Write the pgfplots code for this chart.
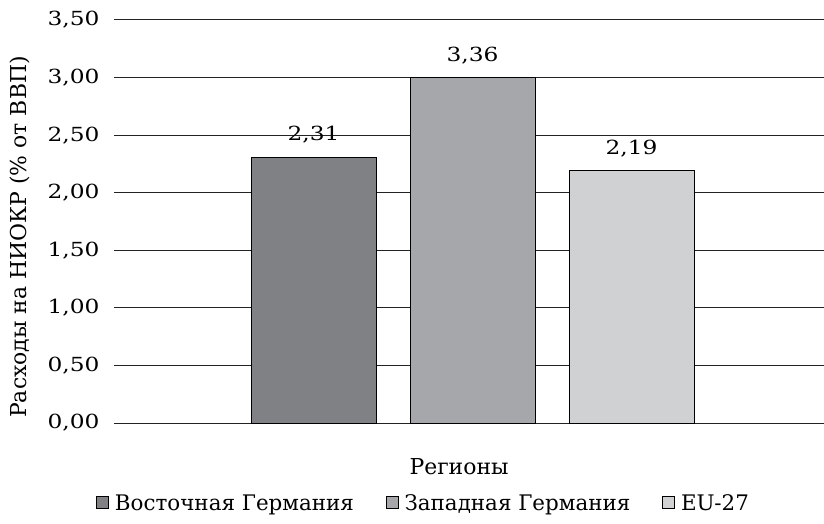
\documentclass[border=0pt]{standalone}
\usepackage{pgfplots}
\pgfplotsset{compat=1.18}
\usepackage{fontspec}
\setmainfont{DejaVu Serif}
\newfontfamily\numfont[FakeStretch=1.2]{DejaVu Serif}

\definecolor{barA}{RGB}{128,129,133}
\definecolor{barB}{RGB}{166,167,170}
\definecolor{barC}{RGB}{208,209,211}
\definecolor{gridc}{RGB}{35,35,35}

\begin{document}
\begin{tikzpicture}
  \begin{axis}[
    name=ax,
    at={(0,0)}, anchor=south west,
    scale only axis,
    width=710bp, height=403bp,
    xmin=-0.255, xmax=4.211,
    ymin=0, ymax=3.5,
    ytick={0,0.5,1,1.5,2,2.5,3,3.5},
    xtick=\empty,
    axis line style={draw=none},
    major tick length=0pt,
    ymajorgrids,
    grid style={gridc, line width=1pt},
    yticklabel style={
      /pgf/number format/.cd, fixed, fixed zerofill, precision=2, use comma,
      assume math mode=true,
      /tikz/.cd, font=\numfont\fontsize{19.5}{22}\selectfont, xshift=-11bp},
    ylabel={Расходы на НИОКР (\% от ВВП)},
    ylabel style={at={(rel axis cs:-0.132,0.4615)}, anchor=center,
      font=\fontsize{22}{24}\selectfont},
    xlabel={Регионы},
    xlabel style={at={(rel axis cs:0.486,-0.109)}, anchor=center,
      font=\fontsize{22}{24}\selectfont},
    ybar, bar width=0.786,
    nodes near coords,
    point meta=explicit symbolic,
    every node near coord/.append style={font=\numfont\fontsize{19.5}{22}\selectfont, yshift=10bp},
    legend style={at={(rel axis cs:0.436,-0.199)}, anchor=center,
      draw=none, legend columns=3,
      font=\fontsize{21.5}{24}\selectfont,
      /tikz/every odd column/.append style={column sep=4bp},
      /tikz/every even column/.append style={column sep=30bp}},
    legend image code/.code={
      \draw[#1, draw=black, line width=0.7pt] (0bp,-5bp) rectangle (12bp,7bp);},
  ]
    \addplot[fill=barA, draw=black, line width=0.8pt, bar shift=0pt]
      coordinates {(1,2.31) [2,31]};
    \addplot[fill=barB, draw=black, line width=0.8pt, bar shift=0pt]
      coordinates {(2,3.00) [3,36]};
    \addplot[fill=barC, draw=black, line width=0.8pt, bar shift=0pt]
      coordinates {(3,2.19) [2,19]};
    \legend{Восточная Германия, Западная Германия, EU-27}
  \end{axis}
  \pgfresetboundingbox
  \path[use as bounding box] ([xshift=-114bp,yshift=-101bp]ax.south west)
    rectangle ([yshift=20bp]ax.north east);
\end{tikzpicture}
\end{document}
